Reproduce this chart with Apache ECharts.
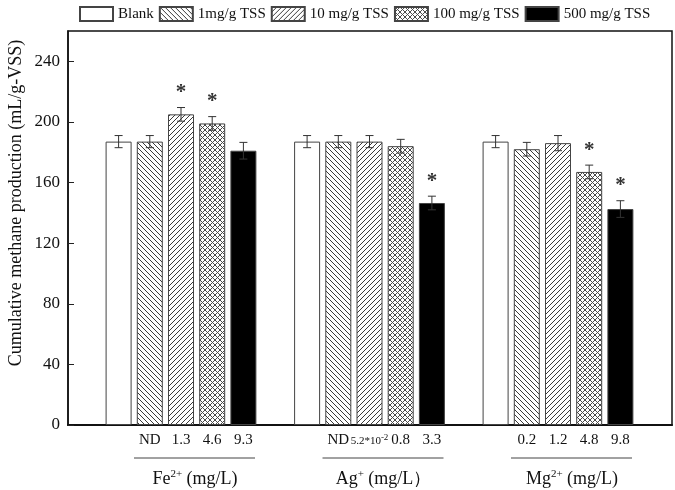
<!DOCTYPE html>
<html><head><meta charset="utf-8">
<script src="https://cdn.jsdelivr.net/npm/echarts@6/dist/echarts.min.js"></script>
<style>html,body{margin:0;padding:0;background:#fff}#c{width:675px;height:490px}</style>
</head><body><div id="c"></div>
<script>
// ---- data ----
const categories = ['Fe', 'Ag', 'Mg'];
const seriesNames = ['Blank', '1mg/g TSS', '10 mg/g TSS', '100 mg/g TSS', '500 mg/g TSS'];
const blankValues  = [187, 187, 187];
const tss1Values   = [187, 187, 182];
const tss10Values  = [205, 187, 186];
const tss100Values = [199, 184, 167];
const tss500Values = [181, 146.5, 142.5];
const blankErr  = [4, 4, 4];
const tss1Err   = [4, 4, 4.5];
const tss10Err  = [4.5, 4, 5];
const tss100Err = [4.5, 4.5, 4.5];
const tss500Err = [5.5, 4.5, 5.5];
const blankStar  = [0, 0, 0];
const tss1Star   = [0, 0, 0];
const tss10Star  = [1, 0, 0];
const tss100Star = [1, 0, 1];
const tss500Star = [0, 1, 1];
const blankDose  = ['', '', ''];
const tss1Dose   = ['ND', 'ND', '0.2'];
const tss10Dose  = ['1.3', '{sm|5.2*10}{sup|-2}', '1.2'];
const tss100Dose = ['4.6', '0.8', '4.8'];
const tss500Dose = ['9.3', '3.3', '9.8'];
const groupLabels = ['Fe{sup|2+} (mg/L)', 'Ag{sup|+} (mg/L\uFF09', 'Mg{sup|2+} (mg/L)'];
const yMin = 0, yMax = 260, yInterval = 40;
const yTitle = 'Cumulative methane production (mL/g-VSS)';

const allValues = [blankValues, tss1Values, tss10Values, tss100Values, tss500Values];
const allErr = [blankErr, tss1Err, tss10Err, tss100Err, tss500Err];
const allStar = [blankStar, tss1Star, tss10Star, tss100Star, tss500Star];
const allDose = [blankDose, tss1Dose, tss10Dose, tss100Dose, tss500Dose];

// ---- style ----
const FONT = '"Liberation Serif", "Times New Roman", serif';
const BAR_W = 26, BAR_GAP = 0.2;

function pattern(kind) {
  const s = 5;
  const c = document.createElement('canvas');
  c.width = c.height = s;
  const g = c.getContext('2d');
  g.fillStyle = '#fff'; g.fillRect(0, 0, s, s);
  g.strokeStyle = kind === 'cross' ? '#4a4a4a' : '#3a3a3a'; g.lineWidth = 1;
  g.beginPath();
  for (let k = -1; k <= 1; k++) {
    if (kind === 'back' || kind === 'cross') { g.moveTo(k * s, 0); g.lineTo(k * s + s, s); }
    if (kind === 'fwd' || kind === 'cross') { g.moveTo(k * s, s); g.lineTo(k * s + s, 0); }
  }
  g.stroke();
  return { image: c, repeat: 'repeat' };
}
const fills = ['#ffffff', pattern('back'), pattern('fwd'), pattern('cross'), '#000000'];

const barSeries = seriesNames.map((name, i) => ({
  name, type: 'bar', xAxisIndex: 1, yAxisIndex: 1,
  barWidth: BAR_W, barGap: (BAR_GAP * 100) + '%',
  data: allValues[i],
  itemStyle: { color: fills[i], borderColor: '#444', borderWidth: 1 },
  label: {
    show: true, position: 'bottom', distance: 8,
    formatter: p => allDose[i][p.dataIndex],
    fontFamily: FONT, fontSize: 15, color: '#111',
    rich: {
      sm: { fontFamily: FONT, fontSize: 11, color: '#111' },
      sup: { fontFamily: FONT, fontSize: 9, color: '#111', padding: [0, 0, 8, 0] }
    }
  },
  emphasis: { disabled: true },
  z: 2
}));

const errData = [];
allValues.forEach((vals, i) => vals.forEach((v, j) => errData.push([j, v, allErr[i][j], allStar[i][j], i])));

const errSeries = {
  type: 'custom', xAxisIndex: 1, yAxisIndex: 1, clip: false, z: 5,
  data: errData,
  renderItem: (params, api) => {
    const j = api.value(0), v = api.value(1), e = api.value(2), st = api.value(3), i = api.value(4);
    const dx = (i - 2) * BAR_W * (1 + BAR_GAP);
    const top = api.coord([j, v + e]), bot = api.coord([j, v - e]);
    const x = top[0] + dx;
    const ls = { stroke: '#333', lineWidth: 1 };
    const ch = [
      { type: 'line', shape: { x1: x, y1: top[1], x2: x, y2: bot[1] }, style: ls },
      { type: 'line', shape: { x1: x - 4, y1: top[1], x2: x + 4, y2: top[1] }, style: ls },
      { type: 'line', shape: { x1: x - 4, y1: bot[1], x2: x + 4, y2: bot[1] }, style: ls }
    ];
    if (st) ch.push({ type: 'text', x: x, y: top[1] - 15,
      style: { text: '*', font: 'bold 21px ' + FONT, fill: '#333', align: 'center', verticalAlign: 'middle' } });
    return { type: 'group', children: ch };
  }
};

const groupSeries = {
  type: 'custom', xAxisIndex: 1, yAxisIndex: 1, clip: false, z: 5,
  data: categories.map((c, j) => [j]),
  renderItem: (params, api) => {
    const j = api.value(0);
    const p = api.coord([j, yMin]);
    return { type: 'group', children: [
      { type: 'line', shape: { x1: p[0] - 47, y1: p[1] + 33, x2: p[0] + 74, y2: p[1] + 33 }, style: { stroke: '#444', lineWidth: 1 } },
      { type: 'text', x: p[0] + 14, y: p[1] + 54, style: {
          text: groupLabels[j], fontFamily: FONT, fontSize: 18, fill: '#111', align: 'center', verticalAlign: 'middle',
          rich: { sup: { fontFamily: FONT, fontSize: 11, fill: '#111', padding: [0, 0, 9, 0] } } } }
    ] };
  }
};

const chart = echarts.init(document.getElementById('c'), null, { renderer: 'canvas' });
chart.setOption({
  animation: false,
  backgroundColor: '#fff',
  legend: {
    data: seriesNames, left: 79, top: 6, itemWidth: 33, itemHeight: 14, itemGap: 5, padding: 0,
    icon: 'rect', selectedMode: false,
    textStyle: { fontFamily: FONT, fontSize: 15, color: '#111' }
  },
  grid: [
    { left: 68, top: 31, width: 604, height: 394, show: true, borderColor: '#111', borderWidth: 1.5, backgroundColor: 'transparent', containLabel: false },
    { left: 86.75, top: 31, width: 565.5, height: 394, containLabel: false }
  ],
  xAxis: [
    { type: 'value', gridIndex: 0, min: 0, max: 1, axisLine: { show: true, lineStyle: { color: '#111', width: 2 } },
      axisTick: { show: false }, axisLabel: { show: false }, splitLine: { show: false } },
    { type: 'category', gridIndex: 1, data: categories, axisLine: { show: false },
      axisTick: { show: true, alignWithLabel: true, inside: true, length: 7, lineStyle: { color: '#222', width: 1 } },
      axisLabel: { show: false }, splitLine: { show: false } }
  ],
  yAxis: [
    { type: 'value', gridIndex: 0, min: yMin, max: yMax, interval: yInterval,
      axisLine: { show: true, lineStyle: { color: '#111', width: 1.5 } },
      axisTick: { show: true, inside: true, length: 6, lineStyle: { color: '#222' } },
      axisLabel: { fontFamily: FONT, fontSize: 17, color: '#111', margin: 8, showMaxLabel: false },
      splitLine: { show: false } },
    { type: 'value', gridIndex: 1, min: yMin, max: yMax, interval: yInterval, show: false, splitLine: { show: false } }
  ],
  graphic: [
    { type: 'text', x: 16, y: 203, rotation: Math.PI / 2,
      style: { text: yTitle, font: '18px ' + FONT, fill: '#111', align: 'center', verticalAlign: 'middle' } }
  ],
  series: [...barSeries, errSeries, groupSeries]
});
</script></body></html>
